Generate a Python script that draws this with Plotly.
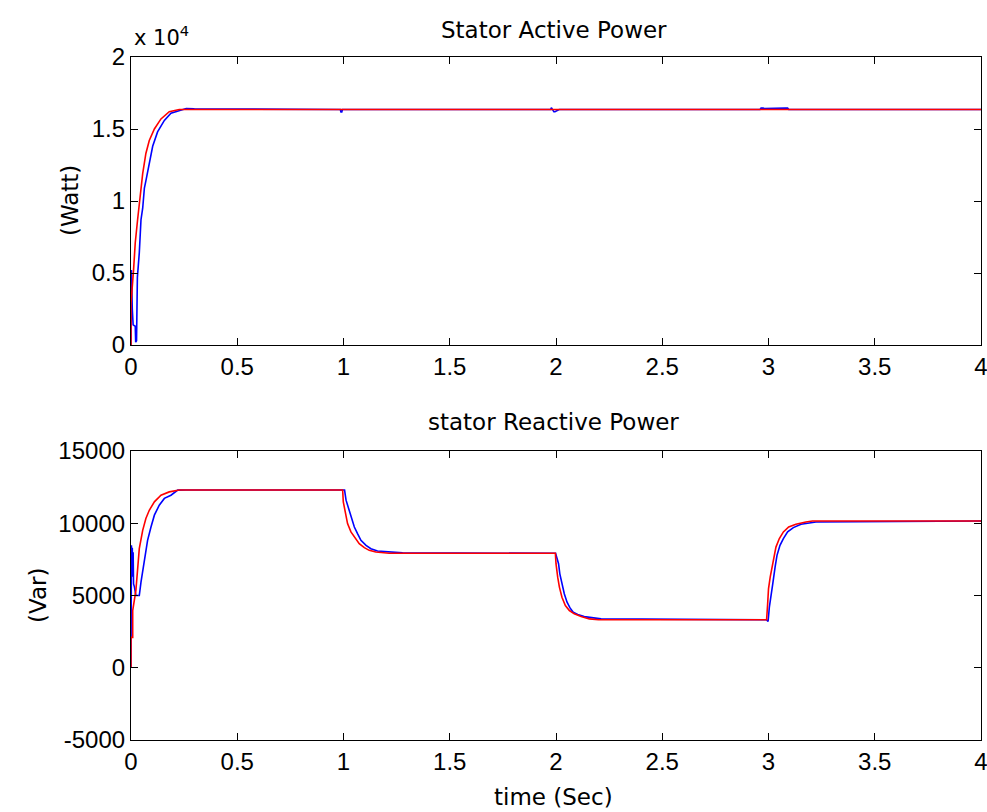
import plotly.graph_objects as go

# ---------------- data ----------------
# Stator active power (W)
p_ref_t = [0, 0.0, 0.012, 0.02, 0.031, 0.039, 0.055, 0.07, 0.086, 0.11, 0.141, 0.18, 0.227, 4.0]
p_ref_v = [0, 2900, 5200, 7100, 8700, 9950, 11900, 13300, 14200, 15000, 15700, 16200, 16350, 16350]

p_meas_t = [0, 0.002, 0.006, 0.010, 0.020, 0.022, 0.026, 0.030, 0.039, 0.047, 0.055, 0.063,
            0.070, 0.086, 0.102, 0.125, 0.157, 0.188, 0.227, 0.260, 0.298,
            0.985, 0.988, 0.992, 0.995,
            1.975, 1.978, 1.982, 1.990, 1.995, 2.010, 2.015,
            2.960, 2.965, 2.975, 2.980, 3.080, 3.090, 3.095, 4.0]
p_meas_v = [0, 5200, 2500, 1400, 1300, 200, 300, 4700, 6400, 8700, 9500, 10900,
            11400, 12500, 13800, 14800, 15600, 16100, 16250, 16420, 16400,
            16350, 16180, 16180, 16350,
            16350, 16480, 16350, 16200, 16200, 16350, 16350,
            16350, 16450, 16450, 16420, 16450, 16450, 16350, 16350]

# Stator reactive power (Var)
q_ref_t = [0, 0, 0.008, 0.008, 0.023, 0.031, 0.039, 0.055, 0.07, 0.086, 0.11, 0.141, 0.18, 0.227,
           0.996, 0.999, 1.008, 1.019, 1.035, 1.055, 1.074, 1.098, 1.121, 1.152, 1.215,
           1.997, 2.0, 2.008, 2.016, 2.028, 2.044, 2.063, 2.086, 2.118, 2.157, 2.2,
           2.991, 2.996, 3.0, 3.008, 3.016, 3.024, 3.035, 3.051, 3.07, 3.095, 3.129, 3.176, 3.207, 4.0]
q_ref_v = [0, 2100, 2100, 3960, 5350, 6970, 8240, 9510, 10330, 10900, 11480, 11940, 12170, 12300,
           12300, 11480, 10670, 9980, 9400, 8940, 8590, 8310, 8125, 8010, 7920,
           7920, 7200, 6270, 5580, 4880, 4300, 3960, 3730, 3540, 3380, 3320,
           3320, 4420, 5460, 6270, 6970, 7660, 8350, 8940, 9400, 9740, 9930, 10090, 10160, 10160]

q_meas_t = [0, 0, 0.002, 0.004, 0.006, 0.008, 0.010, 0.012, 0.016, 0.023, 0.039, 0.047, 0.063,
            0.078, 0.094, 0.11, 0.133, 0.157, 0.188, 0.22, 0.26,
            1.005, 1.012, 1.024, 1.035, 1.051, 1.066, 1.082, 1.106, 1.129, 1.16, 1.215, 1.278,
            1.998, 2.004, 2.012, 2.018, 2.028, 2.039, 2.052, 2.066, 2.081, 2.102, 2.133, 2.188, 2.212,
            2.99, 2.996, 2.998, 3.004, 3.012, 3.02, 3.031, 3.04, 3.054, 3.07, 3.09, 3.117, 3.153,
            3.192, 3.223, 4.0]
q_meas_v = [0, 2100, 8470, 6300, 8300, 6500, 8000, 5800, 5600, 5000, 5000, 5920, 7430,
            8820, 9740, 10560, 11250, 11720, 11940, 12290, 12300,
            12300, 11600, 11020, 10440, 9740, 9280, 8820, 8470, 8240, 8080, 8010, 7950,
            7920, 7660, 7200, 6500, 5810, 5120, 4540, 4140, 3840, 3680, 3540, 3450, 3380,
            3320, 3200, 3200, 4190, 4880, 5810, 6970, 7780, 8470, 8940, 9400, 9700, 9930,
            10020, 10090, 10160]

x_ticks = [0, 0.5, 1, 1.5, 2, 2.5, 3, 3.5, 4]
x_ticktext = ["0", "0.5", "1", "1.5", "2", "2.5", "3", "3.5", "4"]
p_ticks = [0, 5000, 10000, 15000, 20000]
p_ticktext = ["0", "0.5", "1", "1.5", "2"]
q_ticks = [-5000, 0, 5000, 10000, 15000]
q_ticktext = ["-5000", "0", "5000", "10000", "15000"]

# ---------------- figure ----------------
W, H = 987, 812
fig = go.Figure()
fig.add_trace(go.Scatter(x=p_meas_t, y=p_meas_v, mode="lines",
                         line=dict(color="#0000FF", width=1.6), xaxis="x", yaxis="y"))
fig.add_trace(go.Scatter(x=p_ref_t, y=p_ref_v, mode="lines",
                         line=dict(color="#FF0000", width=1.6), xaxis="x", yaxis="y"))
fig.add_trace(go.Scatter(x=q_meas_t, y=q_meas_v, mode="lines",
                         line=dict(color="#0000FF", width=1.6), xaxis="x2", yaxis="y2"))
fig.add_trace(go.Scatter(x=q_ref_t, y=q_ref_v, mode="lines",
                         line=dict(color="#FF0000", width=1.6), xaxis="x2", yaxis="y2"))

tickfont = dict(family="Liberation Sans, Arial, sans-serif", size=24, color="black")
axis_common = dict(showline=True, linecolor="black", linewidth=1.2, mirror="ticks",
                   ticks="inside", ticklen=7, tickcolor="black", tickwidth=1.2,
                   showgrid=False, zeroline=False, tickfont=tickfont, automargin=False,
                   ticklabeloverflow="allow")

xdom = [131 / W, 981 / W]
fig.update_layout(
    width=W, height=H,
    margin=dict(l=0, r=0, t=0, b=0, pad=0, autoexpand=False),
    paper_bgcolor="white", plot_bgcolor="white",
    showlegend=False,
    xaxis=dict(domain=xdom, range=[0, 4], tickvals=x_ticks, ticktext=x_ticktext,
               anchor="y", **axis_common),
    yaxis=dict(domain=[1 - 345 / H, 1 - 57 / H], range=[0, 20000], tickvals=p_ticks,
               ticktext=p_ticktext, anchor="x", **axis_common),
    xaxis2=dict(domain=xdom, range=[0, 4], tickvals=x_ticks, ticktext=x_ticktext,
                anchor="y2", **axis_common),
    yaxis2=dict(domain=[1 - 740 / H, 1 - 451 / H], range=[-5000, 15000], tickvals=q_ticks,
                ticktext=q_ticktext, anchor="x2", **axis_common),
)

tfont = dict(family="DejaVu Sans, sans-serif", size=23, color="black")
lfont = dict(family="DejaVu Sans, sans-serif", size=23, color="black")
sfont = dict(family="DejaVu Sans, sans-serif", size=21, color="black")
ann = [
    dict(text="Stator Active Power", x=554 / W, y=1 - 30 / H, font=tfont),
    dict(text="stator Reactive Power", x=553 / W, y=1 - 422 / H, font=tfont),
    dict(text="x 10<sup>4</sup>", x=132 / W, y=1 - 36 / H, xanchor="left", font=sfont),
    dict(text="(Watt)", x=70 / W, y=1 - 201 / H, textangle=-90, font=lfont),
    dict(text="(Var)", x=38 / W, y=1 - 596 / H, textangle=-90, font=lfont),
    dict(text="time (Sec)", x=553 / W, y=1 - 797 / H, font=lfont),
]
for a in ann:
    a.setdefault("xanchor", "center")
    fig.add_annotation(xref="paper", yref="paper", yanchor="middle", showarrow=False, **a)

fig.write_html("out.html", config={"displayModeBar": False},
               post_script="document.body.style.margin='0';document.body.style.overflow='hidden';")
